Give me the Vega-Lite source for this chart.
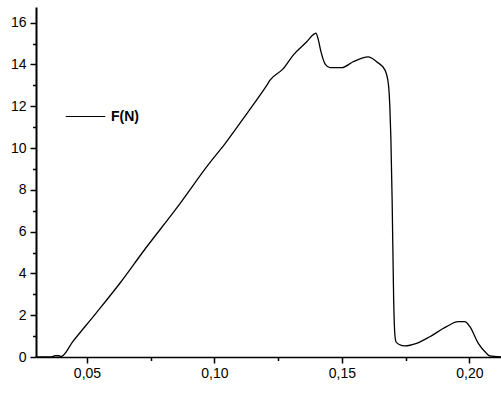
{
  "$schema": "https://vega.github.io/schema/vega-lite/v6.json",
  "width": 465,
  "height": 350,
  "autosize": "none",
  "padding": {"left": 36, "top": 7, "right": 0, "bottom": 37},
  "background": "white",
  "config": {
    "view": {"stroke": null},
    "axis": {"grid": false, "domain": true, "domainColor": "black", "domainOpacity": 1, "tickColor": "black", "labelColor": "black", "labelFont": "Liberation Sans", "labelFontSize": 14, "title": null, "zindex": 1}
  },
  "data": {"values": [
    {"x": 0.030, "F": 0},
    {"x": 0.036, "F": 0},
    {"x": 0.0375, "F": 0.06},
    {"x": 0.039, "F": 0.06},
    {"x": 0.0398, "F": 0.02},
    {"x": 0.0445, "F": 0.75},
    {"x": 0.0535, "F": 2.09},
    {"x": 0.0629, "F": 3.53},
    {"x": 0.0725, "F": 5.12},
    {"x": 0.085, "F": 7.1},
    {"x": 0.0982, "F": 9.3},
    {"x": 0.1041, "F": 10.2},
    {"x": 0.113, "F": 11.7},
    {"x": 0.1205, "F": 13.0},
    {"x": 0.1218, "F": 13.25},
    {"x": 0.127, "F": 13.8},
    {"x": 0.1309, "F": 14.45},
    {"x": 0.1362, "F": 15.09},
    {"x": 0.139, "F": 15.45},
    {"x": 0.1398, "F": 15.5},
    {"x": 0.1407, "F": 15.2},
    {"x": 0.1418, "F": 14.6},
    {"x": 0.1435, "F": 14.0},
    {"x": 0.1453, "F": 13.85},
    {"x": 0.15, "F": 13.85},
    {"x": 0.1544, "F": 14.13},
    {"x": 0.1603, "F": 14.36},
    {"x": 0.1636, "F": 14.13},
    {"x": 0.1669, "F": 13.73},
    {"x": 0.1682, "F": 13.09},
    {"x": 0.1688, "F": 11.97},
    {"x": 0.1692, "F": 10.48},
    {"x": 0.1697, "F": 7.5},
    {"x": 0.1703, "F": 2.7},
    {"x": 0.1707, "F": 1.2},
    {"x": 0.1712, "F": 0.73},
    {"x": 0.1725, "F": 0.6},
    {"x": 0.1747, "F": 0.53},
    {"x": 0.1793, "F": 0.65},
    {"x": 0.1845, "F": 0.97},
    {"x": 0.191, "F": 1.45},
    {"x": 0.1956, "F": 1.69},
    {"x": 0.1982, "F": 1.69},
    {"x": 0.2002, "F": 1.45},
    {"x": 0.2035, "F": 0.65},
    {"x": 0.2065, "F": 0.2},
    {"x": 0.208, "F": 0.05},
    {"x": 0.2124, "F": 0}
  ]},
  "mark": {"type": "line", "strokeWidth": 1.3, "interpolate": "monotone", "clip": true},
  "encoding": {
    "x": {"field": "x", "type": "quantitative",
      "scale": {"domain": [0.030, 0.2124], "nice": false, "zero": false},
      "axis": {"orient": "bottom", "values": [0.05, 0.075, 0.10, 0.125, 0.15, 0.175, 0.20],
        "tickSize": 6,
        "tickDash": {"condition": {"test": "round(datum.value * 1000) % 50 != 0", "value": [3.5, 20]}, "value": []},
        "tickWidth": 1.5, "domainWidth": 1.5, "labelPadding": 3,
        "labelExpr": "round(datum.value * 1000) % 50 != 0 ? '' : replace(format(datum.value, '.2f'), '.', ',')"}},
    "y": {"field": "F", "type": "quantitative",
      "scale": {"domain": [0, 16.75], "nice": false},
      "axis": {"orient": "left", "values": [0, 1, 2, 3, 4, 5, 6, 7, 8, 9, 10, 11, 12, 13, 14, 15, 16],
        "tickSize": 6,
        "tickDash": {"condition": {"test": "datum.value % 2 == 1", "value": [3.5, 20]}, "value": []},
        "tickWidth": 1.5, "domainWidth": 2, "labelPadding": 4,
        "labelExpr": "datum.value % 2 == 1 ? '' : datum.label"}},
    "color": {"datum": "F(N)", "type": "nominal",
      "scale": {"range": ["black"]},
      "legend": {"orient": "none", "legendX": 29, "legendY": 89, "title": null, "padding": 0,
        "symbolType": "stroke", "symbolSize": 1560, "symbolStrokeWidth": 1, "symbolStrokeColor": "black",
        "labelFont": "Liberation Sans", "labelFontSize": 14, "labelFontWeight": "bold", "labelColor": "black", "labelOffset": 5}}
  }
}
